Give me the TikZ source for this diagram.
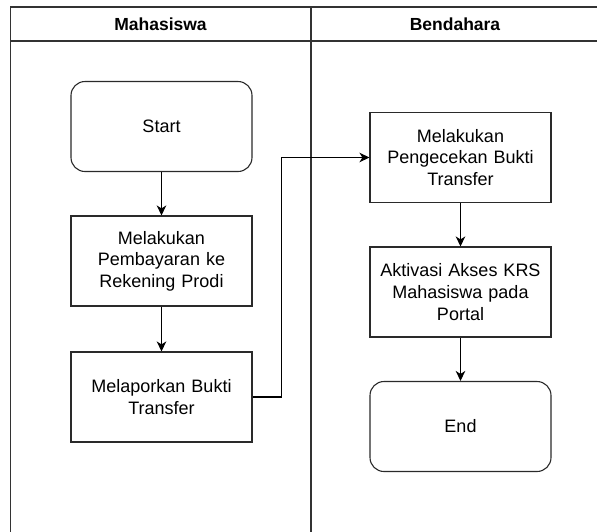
\documentclass[tikz,border=0pt]{standalone}
\usepackage{fontspec}
\setmainfont{Liberation Sans}
\usetikzlibrary{arrows.meta}
\definecolor{lanecol}{HTML}{333333}
\definecolor{boxcol}{HTML}{2A2A2A}
\tikzset{
  lane/.style={draw=lanecol, line width=1.2pt},
  stepbox/.style={draw=boxcol, line width=1.1pt, minimum width=181pt, minimum height=90pt, inner sep=0pt, text width=170pt, align=center, font=\fontsize{18}{21.6}\selectfont},
  termbox/.style={stepbox, rounded corners=14pt},
  headtxt/.style={font=\bfseries\fontsize{17.5}{21}\selectfont, inner sep=0pt},
  flow/.style={draw=black, line width=1.1pt, -{Stealth[length=10pt,width=9.5pt,inset=3pt]}}
}
\begin{document}
\begin{tikzpicture}[x=1pt,y=-1pt]
\useasboundingbox (0,0) rectangle (597,531);
\begin{scope}
\clip (0,0) rectangle (597,531);
\draw[lane] (10.5,560) -- (10.5,7) -- (620,7);
\draw[lane] (10.5,41) -- (620,41);
\draw[lane] (311,7) -- (311,560);
\end{scope}
\node[headtxt] (h1) at (160.5,24) {Mahasiswa};
\node[headtxt] (h2) at (455,24) {Bendahara};
\node[termbox] (start) at (161.5,126.5) {Start};
\node[stepbox] (bayar) at (161.5,261) {Melakukan\\Pembayaran ke\\Rekening Prodi};
\node[stepbox] (lapor) at (161.5,397) {Melaporkan Bukti\\Transfer};
\node[stepbox] (cek) at (460.5,157.5) {Melakukan\\Pengecekan Bukti\\Transfer};
\node[stepbox] (aktif) at (460.5,292) {Aktivasi Akses KRS\\Mahasiswa pada\\Portal};
\node[termbox] (end) at (460.5,426.5) {End};
\coordinate (c1) at (281.5,397);
\coordinate (c2) at (281.5,157.5);
\draw[flow] (start) -- (bayar);
\draw[flow] (bayar) -- (lapor);
\draw[flow] (lapor.east) -- (c1) -- (c2) -- (cek.west);
\draw[flow] (cek) -- (aktif);
\draw[flow] (aktif) -- (end);
\end{tikzpicture}
\end{document}
